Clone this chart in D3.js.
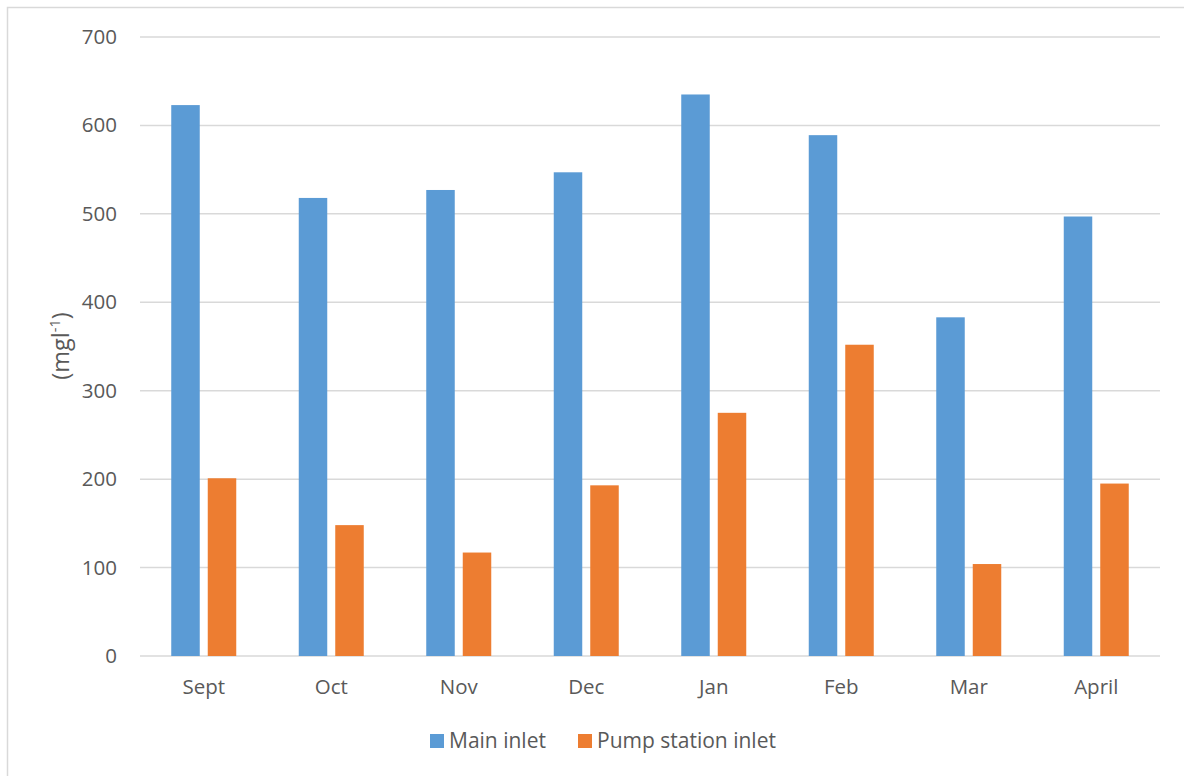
<!DOCTYPE html>
<html>
<head>
<meta charset="utf-8">
<script src="https://cdn.jsdelivr.net/npm/d3@7"></script>
<style>
  html, body { margin: 0; padding: 0; background: #fff; }
  svg text { font-family: "Open Sans", "Liberation Sans", sans-serif; fill: #595959; }
</style>
</head>
<body>
<svg id="chart" width="1184" height="776"></svg>
<script>
// Monthly concentrations at the two sampling points
const months = ["Sept", "Oct", "Nov", "Dec", "Jan", "Feb", "Mar", "April"];
const mainInlet = [623, 518, 527, 547, 635, 589, 383, 497];
const pumpStationInlet = [201, 148, 117, 193, 275, 352, 104, 195];
const seriesNames = ["Main inlet", "Pump station inlet"];
const seriesColors = ["#5b9bd5", "#ed7d31"];
const yTicks = [0, 100, 200, 300, 400, 500, 600, 700];

const svg = d3.select("#chart");

// Chart-area frame
svg.append("rect")
  .attr("x", 7.5).attr("y", 7.5)
  .attr("width", 1200).attr("height", 800)
  .attr("fill", "none").attr("stroke", "#d9d9d9").attr("stroke-width", 1.5);

const plot = { left: 140, right: 1160, top: 37, bottom: 656 };

const x = d3.scaleBand().domain(months).range([plot.left, plot.right]).padding(0);
const y = d3.scaleLinear().domain([0, 700]).range([plot.bottom, plot.top]);

// Horizontal gridlines
svg.append("g").selectAll("line")
  .data(yTicks)
  .join("line")
  .attr("x1", plot.left).attr("x2", plot.right)
  .attr("y1", d => y(d)).attr("y2", d => y(d))
  .attr("stroke", "#d9d9d9").attr("stroke-width", 1.5);

// Y tick labels
const yAxis = d3.axisLeft(y).tickValues(yTicks).tickSize(0).tickPadding(23);
const gy = svg.append("g").attr("transform", `translate(${plot.left},0)`).call(yAxis);
gy.select(".domain").remove();
gy.selectAll("text")
  .style("font-size", "20.5px")
  .attr("fill", "#595959")
  .style("font-family", '"Open Sans", sans-serif');

// X category labels
const xAxis = d3.axisBottom(x).tickSize(0).tickPadding(23);
const gx = svg.append("g").attr("transform", `translate(0,${plot.bottom})`).call(xAxis);
gx.select(".domain").remove();
gx.selectAll("text")
  .style("font-size", "20.5px")
  .attr("fill", "#595959")
  .style("font-family", '"Open Sans", sans-serif');

// Bars: two series per month
const barW = 28.5;
const offsets = [-32.5, 4];
const rows = months.map((m, i) => ({ month: m, values: [mainInlet[i], pumpStationInlet[i]] }));

const groups = svg.append("g").selectAll("g")
  .data(rows)
  .join("g")
  .attr("transform", d => `translate(${x(d.month) + x.bandwidth() / 2},0)`);

groups.selectAll("rect")
  .data(d => d.values.map((v, s) => ({ v, s })))
  .join("rect")
  .attr("x", d => offsets[d.s])
  .attr("width", barW)
  .attr("y", d => y(d.v))
  .attr("height", d => y(0) - y(d.v))
  .attr("fill", d => seriesColors[d.s]);

// Y-axis title with superscript
const yTitle = svg.append("text")
  .attr("transform", "translate(69,346) rotate(-90)")
  .attr("text-anchor", "middle")
  .style("font-size", "23.5px");
yTitle.append("tspan").text("(mgl");
yTitle.append("tspan").attr("dy", -9).style("font-size", "14.5px").text("-1");
yTitle.append("tspan").attr("dy", 9).text(")");

// Legend
const legendItems = [
  { name: seriesNames[0], color: seriesColors[0], x: 430 },
  { name: seriesNames[1], color: seriesColors[1], x: 578 }
];
const lg = svg.append("g").selectAll("g")
  .data(legendItems)
  .join("g")
  .attr("transform", d => `translate(${d.x},734)`);
lg.append("rect").attr("width", 14).attr("height", 14).attr("fill", d => d.color);
lg.append("text")
  .attr("x", 19).attr("y", 14)
  .style("font-size", "21px")
  .text(d => d.name);
</script>
</body>
</html>
